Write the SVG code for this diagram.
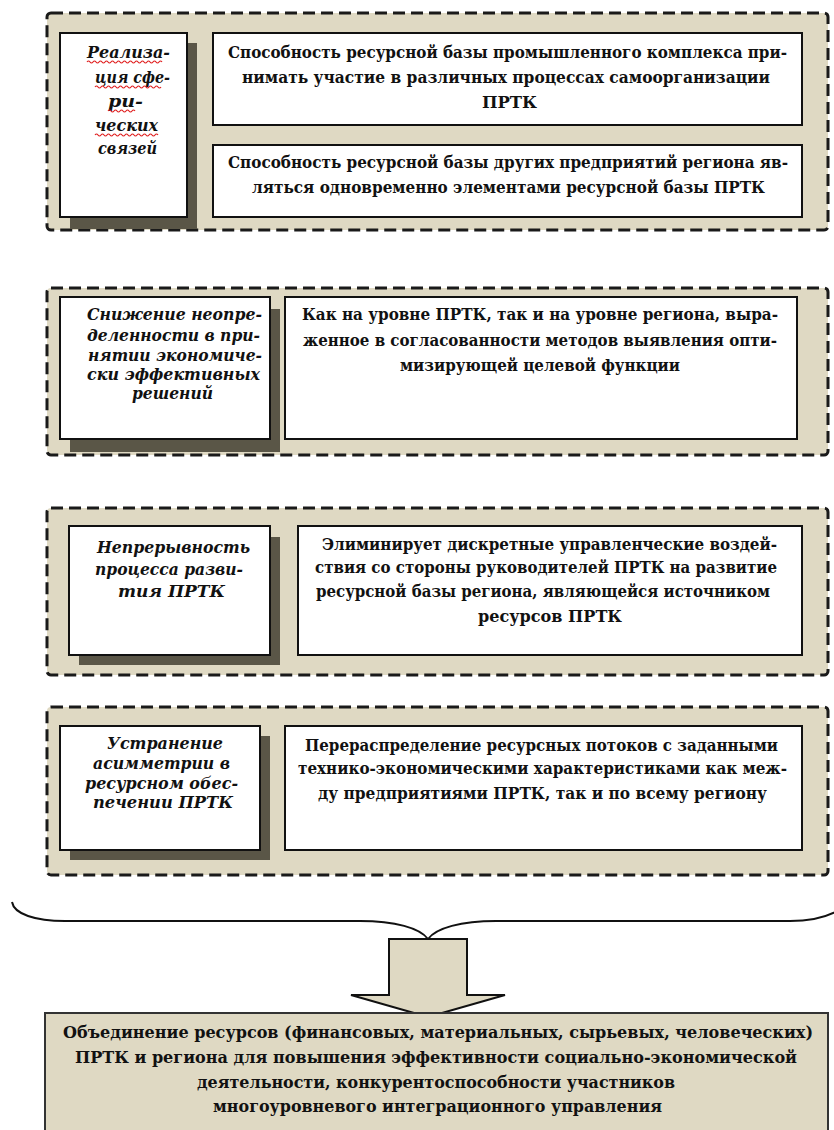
<svg xmlns="http://www.w3.org/2000/svg" width="834" height="1130" viewBox="0 0 834 1130">
<style>
.bg{fill:#ffffff}
.panel{fill:#dfd9c3;stroke:#1a1a1a;stroke-width:3;stroke-dasharray:12 6}
.box{fill:#ffffff;stroke:#111111;stroke-width:2}
.shadow{fill:#5a5647}
.t{font-family:"DejaVu Serif","Liberation Serif",serif;font-weight:bold;font-size:16px;fill:#111111}
.i{font-style:italic}
.wavy{fill:none;stroke:#e02020;stroke-width:1.2}
.conn{fill:none;stroke:#111111;stroke-width:2}
.arrow{fill:#dfd9c3;stroke:#111111;stroke-width:2;stroke-linejoin:miter}
.final{fill:#dfd9c3;stroke:#333333;stroke-width:2}
</style>
<rect class="bg" x="0" y="0" width="834" height="1130"/>

<g id="section1">
  <rect class="panel" x="47" y="13" width="781" height="217" rx="4"/>
  <g id="s1-title">
    <rect class="shadow" x="70" y="43" width="127" height="186"/>
    <rect class="box" x="60" y="33" width="127" height="184"/>
    <text class="t i" x="87" y="58" textLength="83" lengthAdjust="spacingAndGlyphs">Реализа-</text>
    <text class="t i" x="95" y="83" textLength="75" lengthAdjust="spacingAndGlyphs">ция сфе-</text>
    <text class="t i" x="108" y="107" textLength="35" lengthAdjust="spacingAndGlyphs">ри-</text>
    <text class="t i" x="95" y="131" textLength="63" lengthAdjust="spacingAndGlyphs">ческих</text>
    <text class="t i" x="98" y="154" textLength="59" lengthAdjust="spacingAndGlyphs">связей</text>
    <path class="wavy" d="M87,62 q1.5,-2 3,0 t3,0 t3,0 t3,0 t3,0 t3,0 t3,0 t3,0 t3,0 t3,0 t3,0 t3,0 t3,0 t3,0 t3,0 t3,0 t3,0 t3,0 t3,0 t3,0 t3,0 t3,0 t3,0 t3,0 t3,0"/>
    <path class="wavy" d="M95,87 q1.5,-2 3,0 t3,0 t3,0 t3,0 t3,0 t3,0 t3,0 t3,0 t3,0 t3,0 t3,0 t3,0 t3,0 t3,0 t3,0 t3,0 t3,0 t3,0 t3,0 t3,0 t3,0 t3,0"/>
    <path class="wavy" d="M108,111 q1.5,-2 3,0 t3,0 t3,0 t3,0 t3,0 t3,0 t3,0 t3,0 t3,0"/>
    <path class="wavy" d="M95,135 q1.5,-2 3,0 t3,0 t3,0 t3,0 t3,0 t3,0 t3,0 t3,0 t3,0 t3,0 t3,0 t3,0 t3,0 t3,0 t3,0 t3,0 t3,0 t3,0 t3,0 t3,0 t3,0"/>
  </g>
  <g id="s1-item1">
    <rect class="box" x="213" y="33" width="589" height="92"/>
    <text class="t" x="228" y="58" textLength="559" lengthAdjust="spacingAndGlyphs">Способность ресурсной базы промышленного комплекса при-</text>
    <text class="t" x="242" y="83" textLength="528" lengthAdjust="spacingAndGlyphs">нимать участие в различных процессах самоорганизации</text>
    <text class="t" x="482" y="108" textLength="55" lengthAdjust="spacingAndGlyphs">ПРТК</text>
  </g>
  <g id="s1-item2">
    <rect class="box" x="213" y="145" width="589" height="72"/>
    <text class="t" x="228" y="168" textLength="560" lengthAdjust="spacingAndGlyphs">Способность ресурсной базы других предприятий региона яв-</text>
    <text class="t" x="252" y="193" textLength="513" lengthAdjust="spacingAndGlyphs">ляться одновременно элементами ресурсной базы ПРТК</text>
  </g>
</g>

<g id="section2">
  <rect class="panel" x="47" y="288" width="781" height="167" rx="4"/>
  <g id="s2-title">
    <rect class="shadow" x="70" y="309" width="210" height="143"/>
    <rect class="box" x="60" y="297" width="210" height="142"/>
    <text class="t i" x="87" y="320" textLength="175" lengthAdjust="spacingAndGlyphs">Снижение неопре-</text>
    <text class="t i" x="87" y="341" textLength="173" lengthAdjust="spacingAndGlyphs">деленности в при-</text>
    <text class="t i" x="88" y="361" textLength="174" lengthAdjust="spacingAndGlyphs">нятии экономиче-</text>
    <text class="t i" x="87" y="380" textLength="173" lengthAdjust="spacingAndGlyphs">ски эффективных</text>
    <text class="t i" x="132" y="399" textLength="81" lengthAdjust="spacingAndGlyphs">решений</text>
  </g>
  <g id="s2-item">
    <rect class="box" x="285" y="297" width="512" height="142"/>
    <text class="t" x="302" y="320" textLength="476" lengthAdjust="spacingAndGlyphs">Как на уровне ПРТК, так и на уровне региона, выра-</text>
    <text class="t" x="303" y="346" textLength="474" lengthAdjust="spacingAndGlyphs">женное в согласованности методов выявления опти-</text>
    <text class="t" x="400" y="371" textLength="280" lengthAdjust="spacingAndGlyphs">мизирующей целевой функции</text>
  </g>
</g>

<g id="section3">
  <rect class="panel" x="47" y="508" width="781" height="167" rx="4"/>
  <g id="s3-title">
    <rect class="shadow" x="79" y="537" width="201" height="128"/>
    <rect class="box" x="69" y="526" width="201" height="129"/>
    <text class="t i" x="97" y="553" textLength="153" lengthAdjust="spacingAndGlyphs">Непрерывность</text>
    <text class="t i" x="95" y="575" textLength="148" lengthAdjust="spacingAndGlyphs">процесса разви-</text>
    <text class="t i" x="118" y="597" textLength="107" lengthAdjust="spacingAndGlyphs">тия ПРТК</text>
  </g>
  <g id="s3-item">
    <rect class="box" x="298" y="526" width="504" height="129"/>
    <text class="t" x="322" y="550" textLength="455" lengthAdjust="spacingAndGlyphs">Элиминирует дискретные управленческие воздей-</text>
    <text class="t" x="315" y="573" textLength="462" lengthAdjust="spacingAndGlyphs">ствия со стороны руководителей ПРТК на развитие</text>
    <text class="t" x="316" y="597" textLength="454" lengthAdjust="spacingAndGlyphs">ресурсной базы региона, являющейся источником</text>
    <text class="t" x="478" y="622" textLength="144" lengthAdjust="spacingAndGlyphs">ресурсов ПРТК</text>
  </g>
</g>

<g id="section4">
  <rect class="panel" x="47" y="707" width="781" height="168" rx="4"/>
  <g id="s4-title">
    <rect class="shadow" x="70" y="736" width="200" height="124"/>
    <rect class="box" x="60" y="726" width="200" height="124"/>
    <text class="t i" x="107" y="749" textLength="116" lengthAdjust="spacingAndGlyphs">Устранение</text>
    <text class="t i" x="93" y="769" textLength="137" lengthAdjust="spacingAndGlyphs">асимметрии в</text>
    <text class="t i" x="85" y="789" textLength="153" lengthAdjust="spacingAndGlyphs">ресурсном обес-</text>
    <text class="t i" x="93" y="808" textLength="140" lengthAdjust="spacingAndGlyphs">печении ПРТК</text>
  </g>
  <g id="s4-item">
    <rect class="box" x="285" y="726" width="517" height="124"/>
    <text class="t" x="305" y="751" textLength="473" lengthAdjust="spacingAndGlyphs">Перераспределение ресурсных потоков с заданными</text>
    <text class="t" x="298" y="774" textLength="489" lengthAdjust="spacingAndGlyphs">технико-экономическими характеристиками как меж-</text>
    <text class="t" x="318" y="799" textLength="449" lengthAdjust="spacingAndGlyphs">ду предприятиями ПРТК, так и по всему региону</text>
  </g>
</g>

<g id="connectors">
  <path class="conn" d="M12,902 C14,914 35,921 65,921 L360,921 C395,921 420,928 428,939 C436,928 461,921 496,921 L790,921 C815,921 830,916 842,908"/>
  <path class="arrow" d="M389,939 L467,939 L467,995 L505,995 L428,1017 L351,995 L389,995 Z"/>
</g>

<g id="result">
  <rect class="final" x="45" y="1013" width="783" height="125"/>
  <text class="t" x="63" y="1038" textLength="750" lengthAdjust="spacingAndGlyphs">Объединение ресурсов (финансовых, материальных, сырьевых, человеческих)</text>
  <text class="t" x="75" y="1063" textLength="722" lengthAdjust="spacingAndGlyphs">ПРТК и региона для повышения эффективности социально-экономической</text>
  <text class="t" x="197" y="1088" textLength="478" lengthAdjust="spacingAndGlyphs">деятельности, конкурентоспособности участников</text>
  <text class="t" x="213" y="1112" textLength="449" lengthAdjust="spacingAndGlyphs">многоуровневого интеграционного управления</text>
</g>
</svg>
